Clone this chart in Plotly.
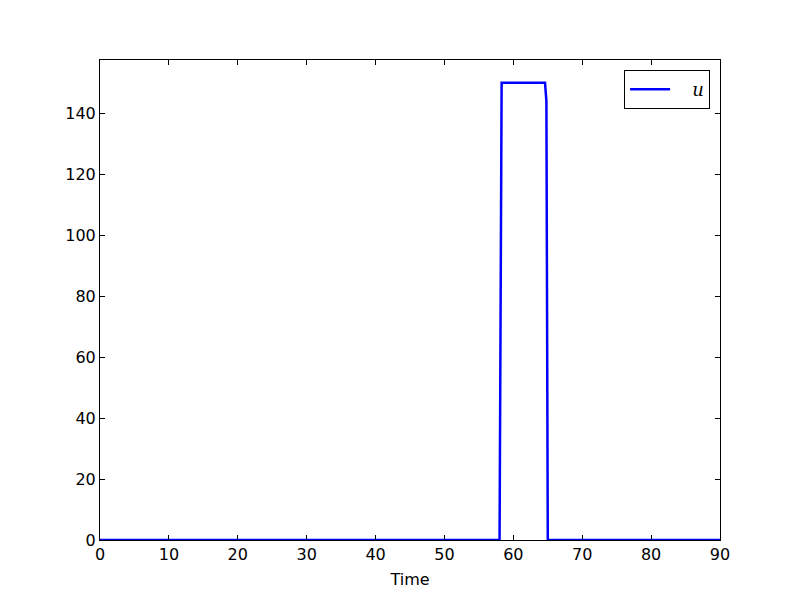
import plotly.graph_objects as go

# control signal: a single pulse
time = [0, 58.0, 58.3, 64.6, 64.8, 65.0, 90]
u = [0, 0, 150, 150, 144, 0, 0]

x_ticks = [0, 10, 20, 30, 40, 50, 60, 70, 80, 90]
y_ticks = [0, 20, 40, 60, 80, 100, 120, 140]

fig = go.Figure()
fig.add_trace(go.Scatter(
    x=time, y=u, mode="lines", name="   <i>u</i>",
    line=dict(color="#0000ff", width=2.5),
))

axis_common = dict(
    showline=True, linecolor="black", linewidth=1, mirror="allticks",
    ticks="inside", ticklen=5, tickcolor="black", showgrid=False, zeroline=False,
    automargin=False, tickfont=dict(size=16),
)
# page body has an 8px margin, so shift the plot box accordingly
fig.update_layout(
    width=800, height=600,
    margin=dict(l=92, r=88, t=52, b=68),
    plot_bgcolor="white", paper_bgcolor="white",
    font=dict(family="DejaVu Sans", size=16, color="black"),
    xaxis=dict(range=[0, 90], tickvals=x_ticks,
               title=dict(text="Time", standoff=10, font=dict(size=16)), **axis_common),
    yaxis=dict(range=[0, 157.5], tickvals=y_ticks, **axis_common),
    legend=dict(
        x=0.984, y=0.979, xanchor="right", yanchor="top",
        bordercolor="black", borderwidth=1, bgcolor="white",
        font=dict(family="DejaVu Serif", size=18), itemwidth=40,
    ),
    showlegend=True,
)

fig.write_html("out.html")
